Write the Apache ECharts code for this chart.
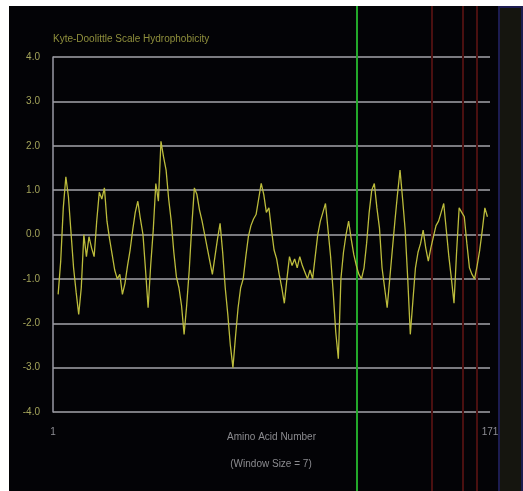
<!DOCTYPE html>
<html>
<head>
<meta charset="utf-8">
<script src="https://cdn.jsdelivr.net/npm/echarts@6/dist/echarts.min.js"></script>
<style>
  html, body { margin: 0; padding: 0; background: #ffffff; width: 523px; height: 491px; overflow: hidden; }
  #chart { position: absolute; left: 9px; top: 6px; width: 514px; height: 485px; }
</style>
</head>
<body>
<div id="chart"></div>
<script>
// Kyte-Doolittle hydropathy profile, window size 7
const residues = [];
for (let r = 3; r <= 170; r++) residues.push(r);

const hydrophobicity = [
  -1.35, -0.6, 0.6, 1.3, 0.85, 0.05, -0.75, -1.3, -1.8, -1.2,
  0.0, -0.5, -0.05, -0.3, -0.5, 0.3, 0.95, 0.8, 1.05, 0.3,
  -0.1, -0.45, -0.8, -1.0, -0.9, -1.35, -1.1, -0.7, -0.35, 0.1,
  0.5, 0.75, 0.35, 0.0, -0.8, -1.65, -0.7, 0.1, 1.15, 0.75,
  2.1, 1.75, 1.45, 0.8, 0.3, -0.4, -0.95, -1.2, -1.6, -2.25,
  -1.6, -0.8, 0.2, 1.05, 0.9, 0.55, 0.3, 0.0, -0.3, -0.6,
  -0.9, -0.5, -0.1, 0.25, -0.4, -1.2, -1.8, -2.5, -3.0, -2.3,
  -1.65, -1.2, -1.0, -0.5, -0.05, 0.2, 0.35, 0.45, 0.8, 1.15,
  0.9, 0.5, 0.6, 0.1, -0.35, -0.55, -0.9, -1.2, -1.55, -1.0,
  -0.5, -0.7, -0.55, -0.75, -0.5, -0.7, -0.85, -1.0, -0.8, -1.0,
  -0.5, 0.0, 0.3, 0.5, 0.7, 0.1, -0.5, -1.3, -2.2, -2.8,
  -1.0, -0.4, 0.0, 0.3, -0.1, -0.45, -0.7, -0.9, -1.0, -0.75,
  -0.2, 0.5, 1.0, 1.15, 0.6, 0.15, -0.75, -1.2, -1.65, -1.0,
  -0.35, 0.3, 0.9, 1.45, 0.8, 0.1, -1.0, -2.25, -1.5, -0.75,
  -0.4, -0.2, 0.1, -0.3, -0.6, -0.3, -0.05, 0.2, 0.3, 0.5,
  0.7, 0.1, -0.5, -1.0, -1.55, -0.4, 0.6, 0.5, 0.4, -0.2,
  -0.75, -0.9, -1.0, -0.7, -0.35, 0.1, 0.6, 0.4
];

const yTicks = [-4, -3, -2, -1, 0, 1, 2, 3, 4];
const xTickLabels = [1, 171];

// cursor position (green) and selection marks (dark red)
const cursorResidue = [119.3];
const selectionResidues = [148.4, 160.5, 165.9];

const chart = echarts.init(document.getElementById('chart'), null, { renderer: 'canvas' });

const gridLeft = 44, gridRight = 33;

chart.setOption({
  backgroundColor: '#030306',
  animation: false,
  grid: [
    { left: gridLeft, right: gridRight, top: 51, bottom: 79 },
    { left: gridLeft, right: gridRight, top: 0, bottom: 0 }
  ],
  xAxis: [
    {
      gridIndex: 0,
      type: 'value',
      min: xTickLabels[0],
      max: xTickLabels[xTickLabels.length - 1],
      name: 'Amino Acid Number',
      nameLocation: 'middle',
      nameGap: 20,
      nameMoveOverlap: false,
      nameTextStyle: { color: '#8c8c90', fontSize: 10, fontFamily: 'Liberation Sans' },
      axisLine: { show: false },
      axisTick: { show: false },
      splitLine: { show: false },
      axisLabel: {
        customValues: xTickLabels,
        color: '#8e8e95',
        fontSize: 10,
        margin: 15,
        fontFamily: 'Liberation Sans'
      }
    },
    {
      gridIndex: 1,
      type: 'value',
      min: xTickLabels[0],
      max: xTickLabels[xTickLabels.length - 1],
      show: false
    }
  ],
  yAxis: [
    {
      gridIndex: 0,
      type: 'value',
      min: yTicks[0],
      max: yTicks[yTicks.length - 1],
      interval: 1,
      name: 'Kyte-Doolittle Scale Hydrophobicity',
      nameLocation: 'end',
      nameGap: 13,
      nameTextStyle: { color: '#8f8f3c', fontSize: 10, align: 'left', fontFamily: 'Liberation Sans' },
      axisLine: { show: true, lineStyle: { color: '#9a9aa4', width: 1.5 } },
      axisTick: { show: false },
      axisLabel: {
        color: '#a3a35a',
        fontSize: 10,
        margin: 13,
        fontFamily: 'Liberation Sans',
        formatter: v => v.toFixed(1)
      },
      splitLine: { show: true, lineStyle: { color: '#a4a4aa', width: 1.5 } }
    },
    {
      gridIndex: 1,
      type: 'value',
      min: 0,
      max: 1,
      show: false
    }
  ],
  graphic: [
    {
      type: 'rect',
      right: 0,
      top: 0,
      shape: { width: 23, height: 485 },
      style: { fill: '#15150f', stroke: '#1c1c50', lineWidth: 2 },
      z: 0
    },
    {
      type: 'text',
      x: 262,
      y: 458,
      style: {
        text: '(Window Size = 7)',
        fill: '#8c8c90',
        fontSize: 10,
        fontFamily: 'Liberation Sans',
        align: 'center',
        verticalAlign: 'middle'
      }
    }
  ],
  series: [
    {
      type: 'line',
      xAxisIndex: 0,
      yAxisIndex: 0,
      data: residues.map((r, i) => [r, hydrophobicity[i]]),
      showSymbol: false,
      lineStyle: { color: '#bcbc3c', width: 1.3 },
      z: 5
    },
    {
      type: 'line',
      xAxisIndex: 1,
      yAxisIndex: 1,
      data: [],
      silent: true,
      markLine: {
        silent: true,
        symbol: 'none',
        label: { show: false },
        data: [
          ...selectionResidues.map(v => ({ xAxis: v, lineStyle: { color: '#4a1010', width: 2, type: 'solid' } })),
          ...cursorResidue.map(v => ({ xAxis: v, lineStyle: { color: '#22a82a', width: 2, type: 'solid' } }))
        ]
      },
      z: 6
    }
  ]
});
</script>
</body>
</html>
